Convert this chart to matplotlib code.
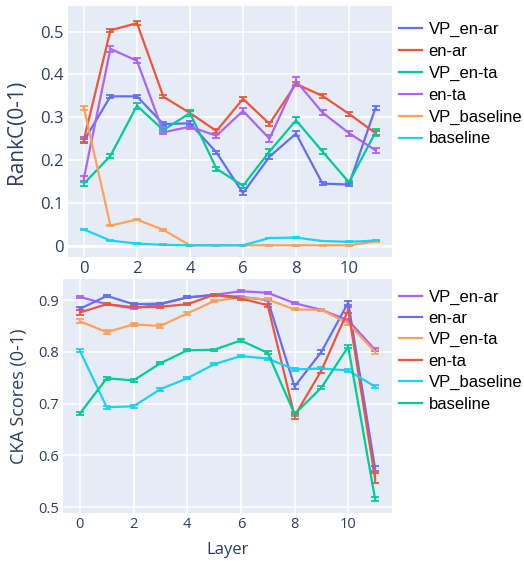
import matplotlib
matplotlib.use("Agg")
import matplotlib.pyplot as plt

# Data
layers = list(range(12))
series_names = ["VP_en-ar", "en-ar", "VP_en-ta", "en-ta", "VP_baseline", "baseline"]

rankc_vp_en_ar = [0.245, 0.349, 0.349, 0.284, 0.286, 0.218, 0.123, 0.208, 0.262, 0.145, 0.143, 0.322]
rankc_en_ar = [0.248, 0.503, 0.520, 0.348, 0.310, 0.268, 0.343, 0.285, 0.378, 0.350, 0.308, 0.263]
rankc_vp_en_ta = [0.145, 0.210, 0.327, 0.270, 0.310, 0.180, 0.140, 0.220, 0.293, 0.220, 0.148, 0.265]
rankc_en_ta = [0.158, 0.460, 0.432, 0.265, 0.278, 0.257, 0.315, 0.250, 0.385, 0.311, 0.263, 0.223]
rankc_vp_baseline = [0.322, 0.047, 0.061, 0.037, 0.001, 0.001, 0.001, 0.001, 0.001, 0.001, 0.001, 0.010]
rankc_baseline = [0.038, 0.012, 0.005, 0.002, 0.001, 0.001, 0.001, 0.018, 0.019, 0.011, 0.009, 0.012]

rankc_err_vp_en_ar = [0.005, 0.004, 0.004, 0.005, 0.005, 0.004, 0.005, 0.005, 0.005, 0.003, 0.003, 0.005]
rankc_err_en_ar = [0.005, 0.004, 0.004, 0.004, 0.004, 0.004, 0.005, 0.005, 0.005, 0.004, 0.004, 0.004]
rankc_err_vp_en_ta = [0.005, 0.005, 0.007, 0.005, 0.006, 0.005, 0.005, 0.006, 0.007, 0.005, 0.004, 0.008]
rankc_err_en_ta = [0.006, 0.007, 0.006, 0.005, 0.006, 0.005, 0.007, 0.008, 0.009, 0.005, 0.006, 0.006]
rankc_err_vp_baseline = [0.004, 0.002, 0.002, 0.002, 0.001, 0.001, 0.001, 0.001, 0.001, 0.001, 0.001, 0.001]
rankc_err_baseline = [0.001, 0.001, 0.001, 0.001, 0.001, 0.001, 0.001, 0.001, 0.001, 0.001, 0.001, 0.001]

cka_vp_en_ar = [0.906, 0.892, 0.884, 0.892, 0.905, 0.910, 0.917, 0.914, 0.894, 0.881, 0.861, 0.804]
cka_en_ar = [0.883, 0.908, 0.892, 0.893, 0.905, 0.910, 0.906, 0.900, 0.733, 0.800, 0.895, 0.575]
cka_vp_en_ta = [0.859, 0.838, 0.853, 0.850, 0.874, 0.898, 0.905, 0.901, 0.882, 0.881, 0.855, 0.800]
cka_en_ta = [0.876, 0.892, 0.886, 0.887, 0.892, 0.910, 0.903, 0.890, 0.676, 0.764, 0.881, 0.556]
cka_vp_baseline = [0.802, 0.693, 0.695, 0.728, 0.749, 0.776, 0.792, 0.787, 0.766, 0.768, 0.764, 0.733]
cka_baseline = [0.681, 0.749, 0.745, 0.778, 0.803, 0.804, 0.822, 0.798, 0.680, 0.731, 0.810, 0.516]

cka_err_vp_en_ar = [0.002, 0.002, 0.002, 0.002, 0.002, 0.002, 0.002, 0.002, 0.002, 0.002, 0.003, 0.003]
cka_err_en_ar = [0.003, 0.002, 0.002, 0.002, 0.002, 0.002, 0.002, 0.002, 0.005, 0.004, 0.004, 0.005]
cka_err_vp_en_ta = [0.004, 0.004, 0.003, 0.004, 0.003, 0.002, 0.002, 0.002, 0.002, 0.002, 0.004, 0.004]
cka_err_en_ta = [0.004, 0.002, 0.002, 0.002, 0.002, 0.002, 0.002, 0.003, 0.005, 0.004, 0.006, 0.010]
cka_err_vp_baseline = [0.003, 0.003, 0.003, 0.003, 0.002, 0.002, 0.002, 0.002, 0.002, 0.002, 0.002, 0.003]
cka_err_baseline = [0.003, 0.003, 0.003, 0.002, 0.002, 0.002, 0.002, 0.003, 0.004, 0.003, 0.003, 0.004]

top_colors = ["#636efa", "#EF553B", "#00cc96", "#ab63fa", "#FFA15A", "#19d3f3"]
bottom_colors = ["#ab63fa", "#636efa", "#FFA15A", "#EF553B", "#19d3f3", "#00cc96"]

BG = "#E5ECF6"
TXT = "#2a3f5f"

fig = plt.figure(figsize=(5.24, 5.61), dpi=100)
ax1 = fig.add_axes([0.1298, 0.5414, 0.6177, 0.4479])
ax2 = fig.add_axes([0.1208, 0.0861, 0.6267, 0.416])


def style_axis(ax, tick_size):
    ax.set_facecolor(BG)
    for sp in ax.spines.values():
        sp.set_visible(False)
    ax.grid(True, color="white", linewidth=1.1)
    ax.set_axisbelow(True)
    ax.tick_params(length=0, labelsize=tick_size, colors=TXT, pad=3)
    for lab in ax.get_xticklabels() + ax.get_yticklabels():
        lab.set_fontfamily("Open Sans")


def draw(ax, ys, errs, colors):
    for name, y, e, c in zip(series_names, ys, errs, colors):
        ax.errorbar(layers, y, yerr=e, color=c, linewidth=1.6, elinewidth=1.3,
                    capsize=3.2, capthick=1.3, label=name)


draw(ax1,
     [rankc_vp_en_ar, rankc_en_ar, rankc_vp_en_ta, rankc_en_ta, rankc_vp_baseline, rankc_baseline],
     [rankc_err_vp_en_ar, rankc_err_en_ar, rankc_err_vp_en_ta, rankc_err_en_ta,
      rankc_err_vp_baseline, rankc_err_baseline],
     top_colors)
draw(ax2,
     [cka_vp_en_ar, cka_en_ar, cka_vp_en_ta, cka_en_ta, cka_vp_baseline, cka_baseline],
     [cka_err_vp_en_ar, cka_err_en_ar, cka_err_vp_en_ta, cka_err_en_ta,
      cka_err_vp_baseline, cka_err_baseline],
     bottom_colors)

ax1.set_xlim(-0.6, 11.61)
ax1.set_ylim(-0.027, 0.56)
ax1.set_xticks([0, 2, 4, 6, 8, 10])
ax1.set_yticks([0, 0.1, 0.2, 0.3, 0.4, 0.5])
ax1.set_yticklabels(["0", "0.1", "0.2", "0.3", "0.4", "0.5"])
ax1.axhline(0, color="white", linewidth=2, zorder=0.5)
style_axis(ax1, 12)
ax1.set_ylabel("RankC(0-1)", fontsize=15, color=TXT, fontfamily="Open Sans")
ax1.yaxis.set_label_coords(-0.127, 0.5)

ax2.set_xlim(-0.62, 11.62)
ax2.set_ylim(0.4896, 0.94)
ax2.set_xticks([0, 2, 4, 6, 8, 10])
ax2.set_yticks([0.5, 0.6, 0.7, 0.8, 0.9])
ax2.set_yticklabels(["0.5", "0.6", "0.7", "0.8", "0.9"])
style_axis(ax2, 10.5)
ax2.set_ylabel("CKA Scores (0-1)", fontsize=13, color=TXT, fontfamily="Open Sans")
ax2.yaxis.set_label_coords(-0.107, 0.5)
ax2.set_xlabel("Layer", fontsize=12, color=TXT, fontfamily="Open Sans", labelpad=7)


def make_legend(ax, y_top, spacing):
    handles, labels = ax.get_legend_handles_labels()
    lines = [plt.Line2D([], [], color=h[0].get_color(), linewidth=1.6) for h in handles]
    fig.legend(lines, labels, loc="upper left", bbox_to_anchor=(0.762, y_top),
               frameon=False, prop={"family": "Liberation Sans", "size": 12},
               handlelength=1.35, handletextpad=0.4, labelspacing=spacing,
               borderpad=0, borderaxespad=0)


make_legend(ax1, 0.961, 0.41)
make_legend(ax2, 0.484, 0.38)

fig.savefig("out.png", dpi=100)
